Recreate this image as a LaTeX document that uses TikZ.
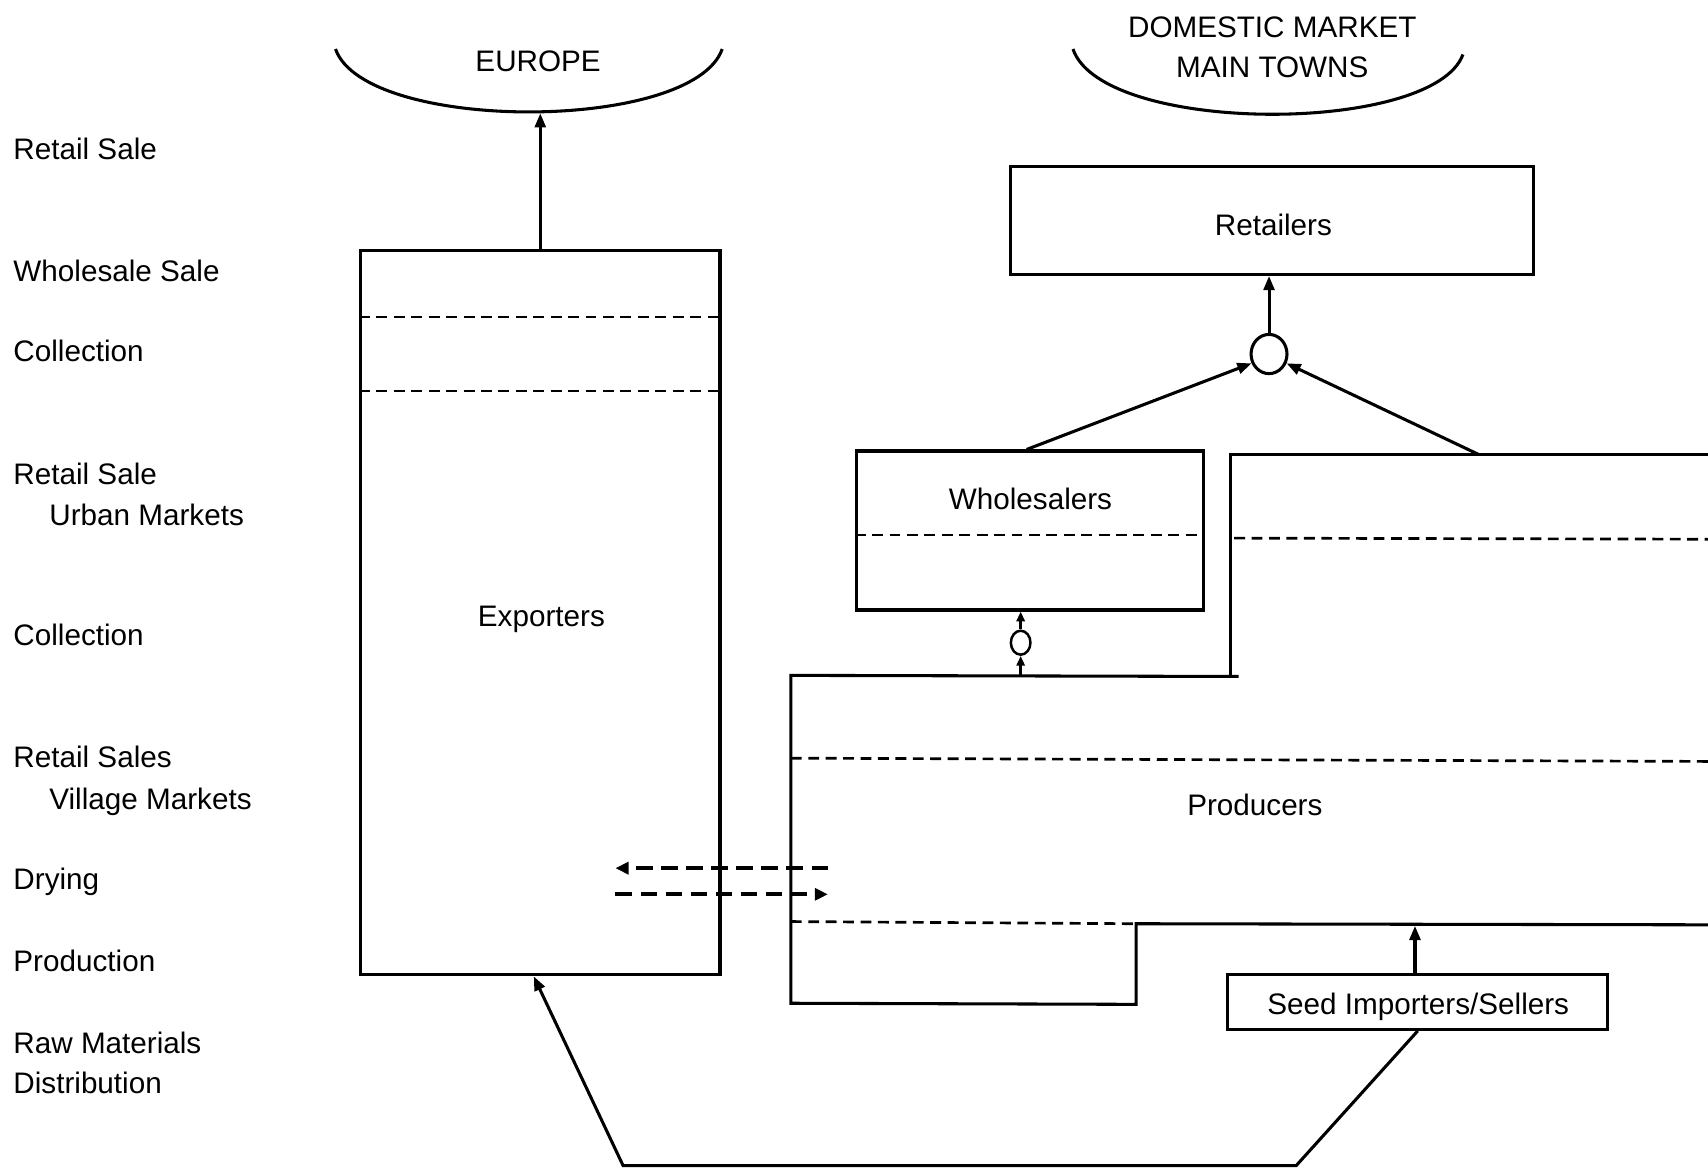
\documentclass[tikz,border=0pt]{standalone}
\usepackage{fontspec}
\setmainfont{Liberation Sans}
\usetikzlibrary{arrows.meta,shapes.geometric,calc}
\begin{document}
\begin{tikzpicture}[x=0.02cm,y=-0.02cm,
  every node/.style={font=\fontsize{15.5}{18}\selectfont, inner sep=0pt},
  txt/.style={anchor=base},
  solidline/.style={line width=1.6pt},
  box/.style={draw, solidline, rectangle},
  stage/.style={anchor=base west},
  arr/.style={solidline, -{Triangle[length=0.26cm,width=0.2cm]}},
  thinarr/.style={line width=1.3pt, -{Triangle[length=0.18cm,width=0.15cm]}},
  divider/.style={line width=1.4pt, dash pattern=on 0.2cm off 0.12cm},
  flow/.style={line width=2.2pt, dash pattern=on 0.3cm off 0.16cm, -{Triangle[length=0.24cm,width=0.22cm]}},
  junction/.style={draw, solidline, ellipse, minimum width=0.66cm, minimum height=0.72cm},
  smalljunction/.style={draw, line width=1.3pt, ellipse, minimum width=0.36cm, minimum height=0.44cm}]
\useasboundingbox[fill=white] (0,0) rectangle (1568,1073);

% stage labels down the left margin (placed by baseline)
\node[stage] (l1)  at (12,146) {Retail Sale};
\node[stage] (l2)  at (12,258) {Wholesale Sale};
\node[stage] (l3)  at (12,332) {Collection};
\node[stage] (l4)  at (12,445) {Retail Sale};
\node[stage] (l4b) at (45,482) {Urban Markets};
\node[stage] (l5)  at (12,593) {Collection};
\node[stage] (l6)  at (12,705) {Retail Sales};
\node[stage] (l6b) at (45,743) {Village Markets};
\node[stage] (l7)  at (12,817) {Drying};
\node[stage] (l8)  at (12,892) {Production};
\node[stage] (l9)  at (12,967) {Raw Materials};
\node[stage] (l9b) at (12,1004) {Distribution};

% markets
\draw[solidline] (308,45) .. controls (335,122) and (636,122) .. (663,45);
\node[txt] (europe) at (494,66) {EUROPE};
\coordinate (eu) at (496,104);
\draw[solidline] (985,45) .. controls (1012,124) and (1316,124) .. (1343,50);
\node[txt] (dom1) at (1168,34) {DOMESTIC MARKET};
\node[txt] (dom2) at (1168,71) {MAIN TOWNS};

% exporters
\node[box, minimum width=6.6cm, minimum height=13.3cm] (exp) at (496,562.5) {};
\node[txt] (exptext) at (497,575) {Exporters};
\draw[divider] (exp.west |- 0,291) -- (exp.east |- 0,291);
\draw[divider] (exp.west |- 0,359) -- (exp.east |- 0,359);
\draw[arr] (exp.north) -- (eu);

% retailers and the junction below
\node[box, minimum width=9.6cm, minimum height=1.98cm] (ret) at (1168,202.5) {};
\node[txt] (rettext) at (1169,216) {Retailers};
\node[junction] (c1) at (1165,325) {};
\draw[arr] (c1.north) -- (c1.north |- ret.south);

% wholesalers
\node[box, minimum width=6.38cm, minimum height=2.92cm] (whole) at (945.5,487) {};
\node[txt] (wtext) at (946,468) {Wholesalers};
\draw[divider] (whole.west |- 0,491) -- (whole.east |- 0,491);
\draw[arr] ($(whole.north)+(-3,0)$) -- (c1.208);

% producers outline
\coordinate (pr) at (1357,417);
\draw[solidline] (1568,417) -- (1130,417) -- (1130,622);
\draw[solidline] (1137,621) -- (726,620) -- (726,921) -- (1043,922) -- (1043,848) -- (1568,849);
\draw[divider] (1133,494) -- (1568,495);
\draw[divider] (726,696) -- (1568,699);
\draw[divider] (726,846) -- (1043,848);
\node[txt] (prodtext) at (1152,749) {Producers};
\draw[arr] (pr) -- (c1.332);

% small junction between producers and wholesalers
\node[smalljunction] (c2) at (937,590) {};
\coordinate (pw) at (937,620);
\draw[thinarr] (pw) -- (c2.south);
\draw[thinarr] (c2.north) -- (c2.north |- whole.south);

% exchange between producers and exporters during drying
\coordinate (dl) at (565,797);
\coordinate (dr) at (760,797);
\coordinate (el) at (565,821);
\coordinate (er) at (760,821);
\draw[flow] (dr) -- (dl);
\draw[flow] (el) -- (er);

% seed importers
\node[box, minimum width=6.98cm, minimum height=1cm] (seed) at (1301.5,920) {};
\node[txt] (seedtext) at (1302,931) {Seed Importers/Sellers};
\coordinate (ps) at (1299,850);
\draw[arr] (seed.north -| ps) -- (ps);
\coordinate (b1) at (1190,1070);
\coordinate (b2) at (572,1070);
\draw[arr] (seed.south) -- (b1) -- (b2) -- ($(exp.south)+(-6,0)$);
\end{tikzpicture}
\end{document}
